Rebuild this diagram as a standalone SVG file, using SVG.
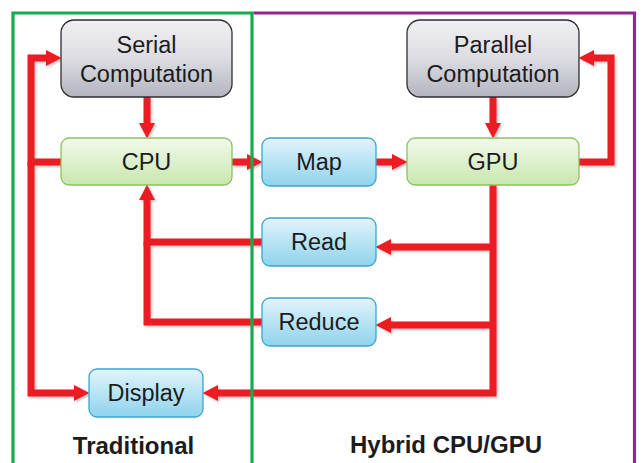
<svg xmlns="http://www.w3.org/2000/svg" width="643" height="463" viewBox="0 0 643 463">
<defs>
<linearGradient id="gGray" x1="0" y1="0" x2="0" y2="1">
<stop offset="0" stop-color="#f0f0f4"/><stop offset="0.5" stop-color="#dcdce2"/><stop offset="1" stop-color="#b4b4c0"/>
</linearGradient>
<linearGradient id="gGreen" x1="0" y1="0" x2="0" y2="1">
<stop offset="0" stop-color="#f2f9ec"/><stop offset="1" stop-color="#c9e7ad"/>
</linearGradient>
<linearGradient id="gBlue" x1="0" y1="0" x2="0" y2="1">
<stop offset="0" stop-color="#e2f4fb"/><stop offset="1" stop-color="#8ed3ee"/>
</linearGradient>
<marker id="ah" markerUnits="userSpaceOnUse" markerWidth="16" markerHeight="18" viewBox="0 -9 16 18" refX="0" refY="0" orient="auto">
<path d="M0,-8 L15.5,0 L0,8 z" fill="#ed1c24"/>
</marker>
<filter id="sh" x="-10%" y="-10%" width="120%" height="120%">
<feDropShadow dx="1.5" dy="1.5" stdDeviation="1" flood-color="#000" flood-opacity="0.25"/>
</filter>
</defs>
<style>
.gray{fill:url(#gGray);stroke:#2e2e33;stroke-width:1.3}
.green{fill:url(#gGreen);stroke:#8cc25e;stroke-width:1.3}
.blue{fill:url(#gBlue);stroke:#3aa5cf;stroke-width:1.3}
text{font-family:"Liberation Sans",Arial,sans-serif;font-size:23.5px;fill:#1c1c1c;text-anchor:middle}
.lbl{font-weight:bold;font-size:24px}
.c{fill:none;stroke:#ed1c24;stroke-width:7;stroke-linejoin:miter}
.a{marker-end:url(#ah)}
</style>
<rect width="643" height="463" fill="#fff"/>
<g id="connectors" filter="url(#sh)">
<path class="c a" d="M147,97 L147,123"/>
<path class="c a" d="M493,97 L493,123"/>
<path class="c a" d="M232,162 L247,162"/>
<path class="c a" d="M376,162 L392,162"/>
<path class="c a" d="M61,162 L31,162 L31,58 L46,58"/>
<path class="c a" d="M31,162 L31,393 L74,393"/>
<path class="c a" d="M579,162 L611,162 L611,58 L594,58"/>
<path class="c a" d="M493,185 L493,393 L218,393"/>
<path class="c a" d="M493,247 L391,247"/>
<path class="c a" d="M493,325 L391,325"/>
<path class="c a" d="M262,242 L147,242 L147,200"/>
<path class="c" d="M262,322 L147,322 L147,242"/>
</g>
<g id="frames" fill="none" stroke-width="3.2">
<path d="M13,463 L13,13 L252,13 L252,463" stroke="#17aa4f"/>
<path d="M253.5,13 L634.5,13 L634.5,463" stroke="#92278f"/>
</g>
<g id="serial"><rect class="gray" x="61" y="20" width="171" height="77" rx="13"/><text x="146.5" y="53">Serial</text><text x="146.5" y="82">Computation</text></g>
<g id="parallel"><rect class="gray" x="407" y="20" width="172" height="77" rx="13"/><text x="493" y="53">Parallel</text><text x="493" y="82">Computation</text></g>
<g id="cpu"><rect class="green" x="61" y="138" width="171" height="47" rx="8"/><text x="146.5" y="170">CPU</text></g>
<g id="gpu"><rect class="green" x="407" y="138" width="172" height="47" rx="8"/><text x="493" y="170">GPU</text></g>
<g id="map"><rect class="blue" x="262" y="138" width="114" height="48" rx="8"/><text x="319" y="170">Map</text></g>
<g id="read"><rect class="blue" x="262" y="218" width="114" height="48" rx="8"/><text x="319" y="250">Read</text></g>
<g id="reduce"><rect class="blue" x="262" y="298" width="114" height="48" rx="8"/><text x="319" y="330">Reduce</text></g>
<g id="display"><rect class="blue" x="89" y="369" width="114" height="48" rx="8"/><text x="146" y="401">Display</text></g>
<g id="labels"><text class="lbl" x="133.5" y="454">Traditional</text><text class="lbl" x="446" y="453">Hybrid CPU/GPU</text></g>
</svg>
